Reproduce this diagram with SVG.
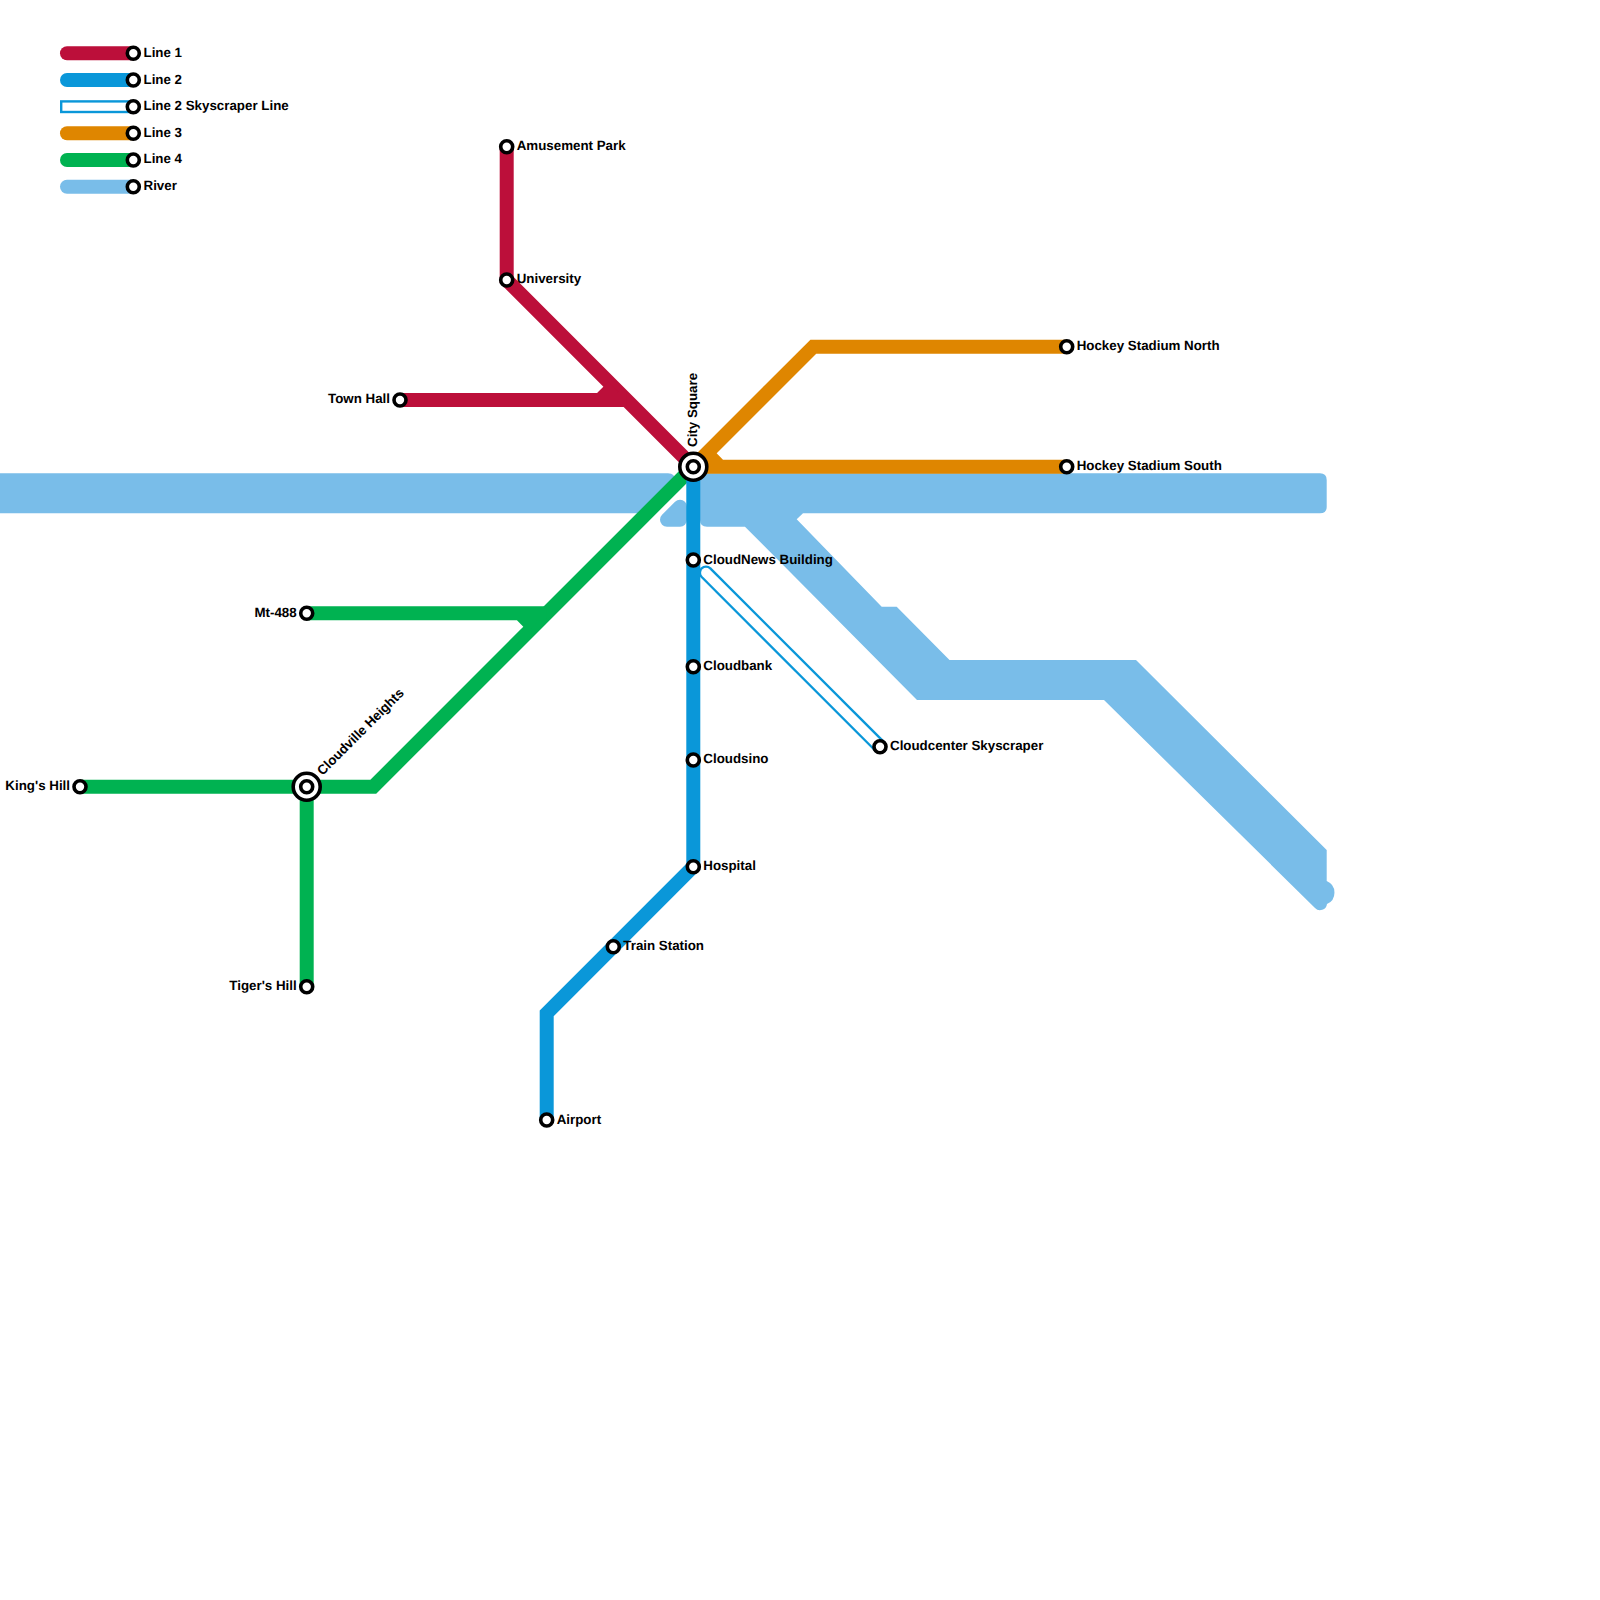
<svg xmlns="http://www.w3.org/2000/svg" width="1600" height="1600" viewBox="0 0 1600 1600">
<style>
.l{fill:none;stroke-width:14;stroke-linejoin:miter;stroke-linecap:butt}
.r1{stroke:#BC0F3A}.r2{stroke:#0A97D9}.r3{stroke:#DF8600}.r4{stroke:#00B251}
.lg{fill:none;stroke-width:14;stroke-linecap:round}
.riv{fill:#79BDE9;stroke:none}
.st{fill:#fff;stroke:#000;stroke-width:3.6}
text{font-family:"Liberation Sans",Arial,sans-serif;font-weight:700;font-size:13.33px;fill:#000;text-rendering:geometricPrecision}
.e{text-anchor:end}
</style>
<g id="river">
<path class="riv" d="M0 473.3H668Q675 473.3 675 480L638 513.3H0Z"/>
<path d="M667 519.7L680 506.7V519.7H667Z" fill="#79BDE9" stroke="#79BDE9" stroke-width="14" stroke-linejoin="round"/>
<path class="riv" d="M700 473.3H1320Q1326.7 473.3 1326.7 480V507Q1326.7 513.3 1320 513.3H803L796.7 519.3L881.7 606.7H896.7L949.5 660H1136L1326.7 850V881A12.5 12.5 0 0 1 1327 904A7 7 0 0 1 1315 908L1104 700H917L745 526.7H707Q700 526.7 700 520Z"/>
</g>
<g id="connectors">
<path class="l r4" d="M80 786.7H373.3L693.3 466.7"/>
<path class="l r4" d="M306.7 786.7V986.7"/>
<path class="l r4" d="M306.7 613.3H546.7M520 613.3L533 626.7"/>
<path class="l r1" d="M506.7 146.7V280L693.3 466.7"/>
<path class="l r1" d="M400 400H626.7M600 400L613.3 386.7"/>
<path class="l r3" d="M693.3 466.7L813.3 346.7H1066.7"/>
<path class="l r3" d="M1066.7 466.7H693.3M720 466.7L706.7 453.3"/>
<path d="M706 572.7L880 746.7" fill="none" stroke="#0A97D9" stroke-width="14.5" stroke-linecap="round"/>
<path d="M706 572.7L880 746.7" fill="none" stroke="#fff" stroke-width="9.8" stroke-linecap="round"/>
<path class="l r2" d="M693.3 466.7V866.7L546.7 1013.3V1120"/>
<path class="lg r1" d="M67 53.3H133.3"/>
<path class="lg r2" d="M67 80H133.3"/>
<rect x="61.2" y="101.4" width="75" height="10.6" fill="#fff" stroke="#0A97D9" stroke-width="2.4"/>
<path class="lg r3" d="M67 133.3H133.3"/>
<path class="lg r4" d="M67 160H133.3"/>
<path class="lg" stroke="#79BDE9" d="M67 186.7H133.3"/>
</g>
<g id="legend-line-1"><circle class="st" cx="133.3" cy="53.3" r="6"/><text x="143.5" y="57">Line 1</text></g>
<g id="legend-line-2"><circle class="st" cx="133.3" cy="80" r="6"/><text x="143.5" y="83.6">Line 2</text></g>
<g id="legend-line-2-sky"><circle class="st" cx="133.3" cy="106.7" r="6"/><text x="143.5" y="110.2">Line 2 Skyscraper Line</text></g>
<g id="legend-line-3"><circle class="st" cx="133.3" cy="133.3" r="6"/><text x="143.5" y="136.9">Line 3</text></g>
<g id="legend-line-4"><circle class="st" cx="133.3" cy="160" r="6"/><text x="143.5" y="163.4">Line 4</text></g>
<g id="legend-river"><circle class="st" cx="133.3" cy="186.7" r="6"/><text x="143.5" y="190.2">River</text></g>
<g id="amusement-park"><circle class="st" cx="506.7" cy="146.7" r="6"/><text x="516.7" y="150.3">Amusement Park</text></g>
<g id="university"><circle class="st" cx="506.7" cy="280" r="6"/><text x="516.7" y="283.4">University</text></g>
<g id="town-hall"><circle class="st" cx="400" cy="400" r="6"/><text class="e" x="390" y="403.4">Town Hall</text></g>
<g id="city-square"><circle class="st" cx="693.3" cy="466.7" r="13.5"/><circle class="st" cx="693.3" cy="466.7" r="6"/><text transform="translate(697 447) rotate(-90)">City Square</text></g>
<g id="hockey-north"><circle class="st" cx="1066.7" cy="346.7" r="6"/><text x="1076.7" y="350.3">Hockey Stadium North</text></g>
<g id="hockey-south"><circle class="st" cx="1066.7" cy="466.7" r="6"/><text x="1076.7" y="470.3">Hockey Stadium South</text></g>
<g id="cloudnews"><circle class="st" cx="693.3" cy="560" r="6"/><text x="703.3" y="563.6">CloudNews Building</text></g>
<g id="cloudbank"><circle class="st" cx="693.3" cy="666.7" r="6"/><text x="703.3" y="670.3">Cloudbank</text></g>
<g id="cloudsino"><circle class="st" cx="693.3" cy="760" r="6"/><text x="703.3" y="763.4">Cloudsino</text></g>
<g id="hospital"><circle class="st" cx="693.3" cy="866.7" r="6"/><text x="703.3" y="870.3">Hospital</text></g>
<g id="train-station"><circle class="st" cx="613.3" cy="946.7" r="6"/><text x="623.3" y="950.3">Train Station</text></g>
<g id="airport"><circle class="st" cx="546.7" cy="1120" r="6"/><text x="556.7" y="1123.7">Airport</text></g>
<g id="cloudcenter"><circle class="st" cx="880" cy="746.7" r="6"/><text x="890" y="750.3">Cloudcenter Skyscraper</text></g>
<g id="mt-488"><circle class="st" cx="306.7" cy="613.3" r="6"/><text class="e" x="296.7" y="616.9">Mt-488</text></g>
<g id="kings-hill"><circle class="st" cx="80" cy="786.7" r="6"/><text class="e" x="70" y="790.3">King's Hill</text></g>
<g id="tigers-hill"><circle class="st" cx="306.7" cy="986.7" r="6"/><text class="e" x="296.7" y="990.3">Tiger's Hill</text></g>
<g id="cloudville-heights"><circle class="st" cx="306.7" cy="786.7" r="13.5"/><circle class="st" cx="306.7" cy="786.7" r="6"/><text transform="translate(322.5 776) rotate(-45)">Cloudville Heights</text></g>
</svg>
